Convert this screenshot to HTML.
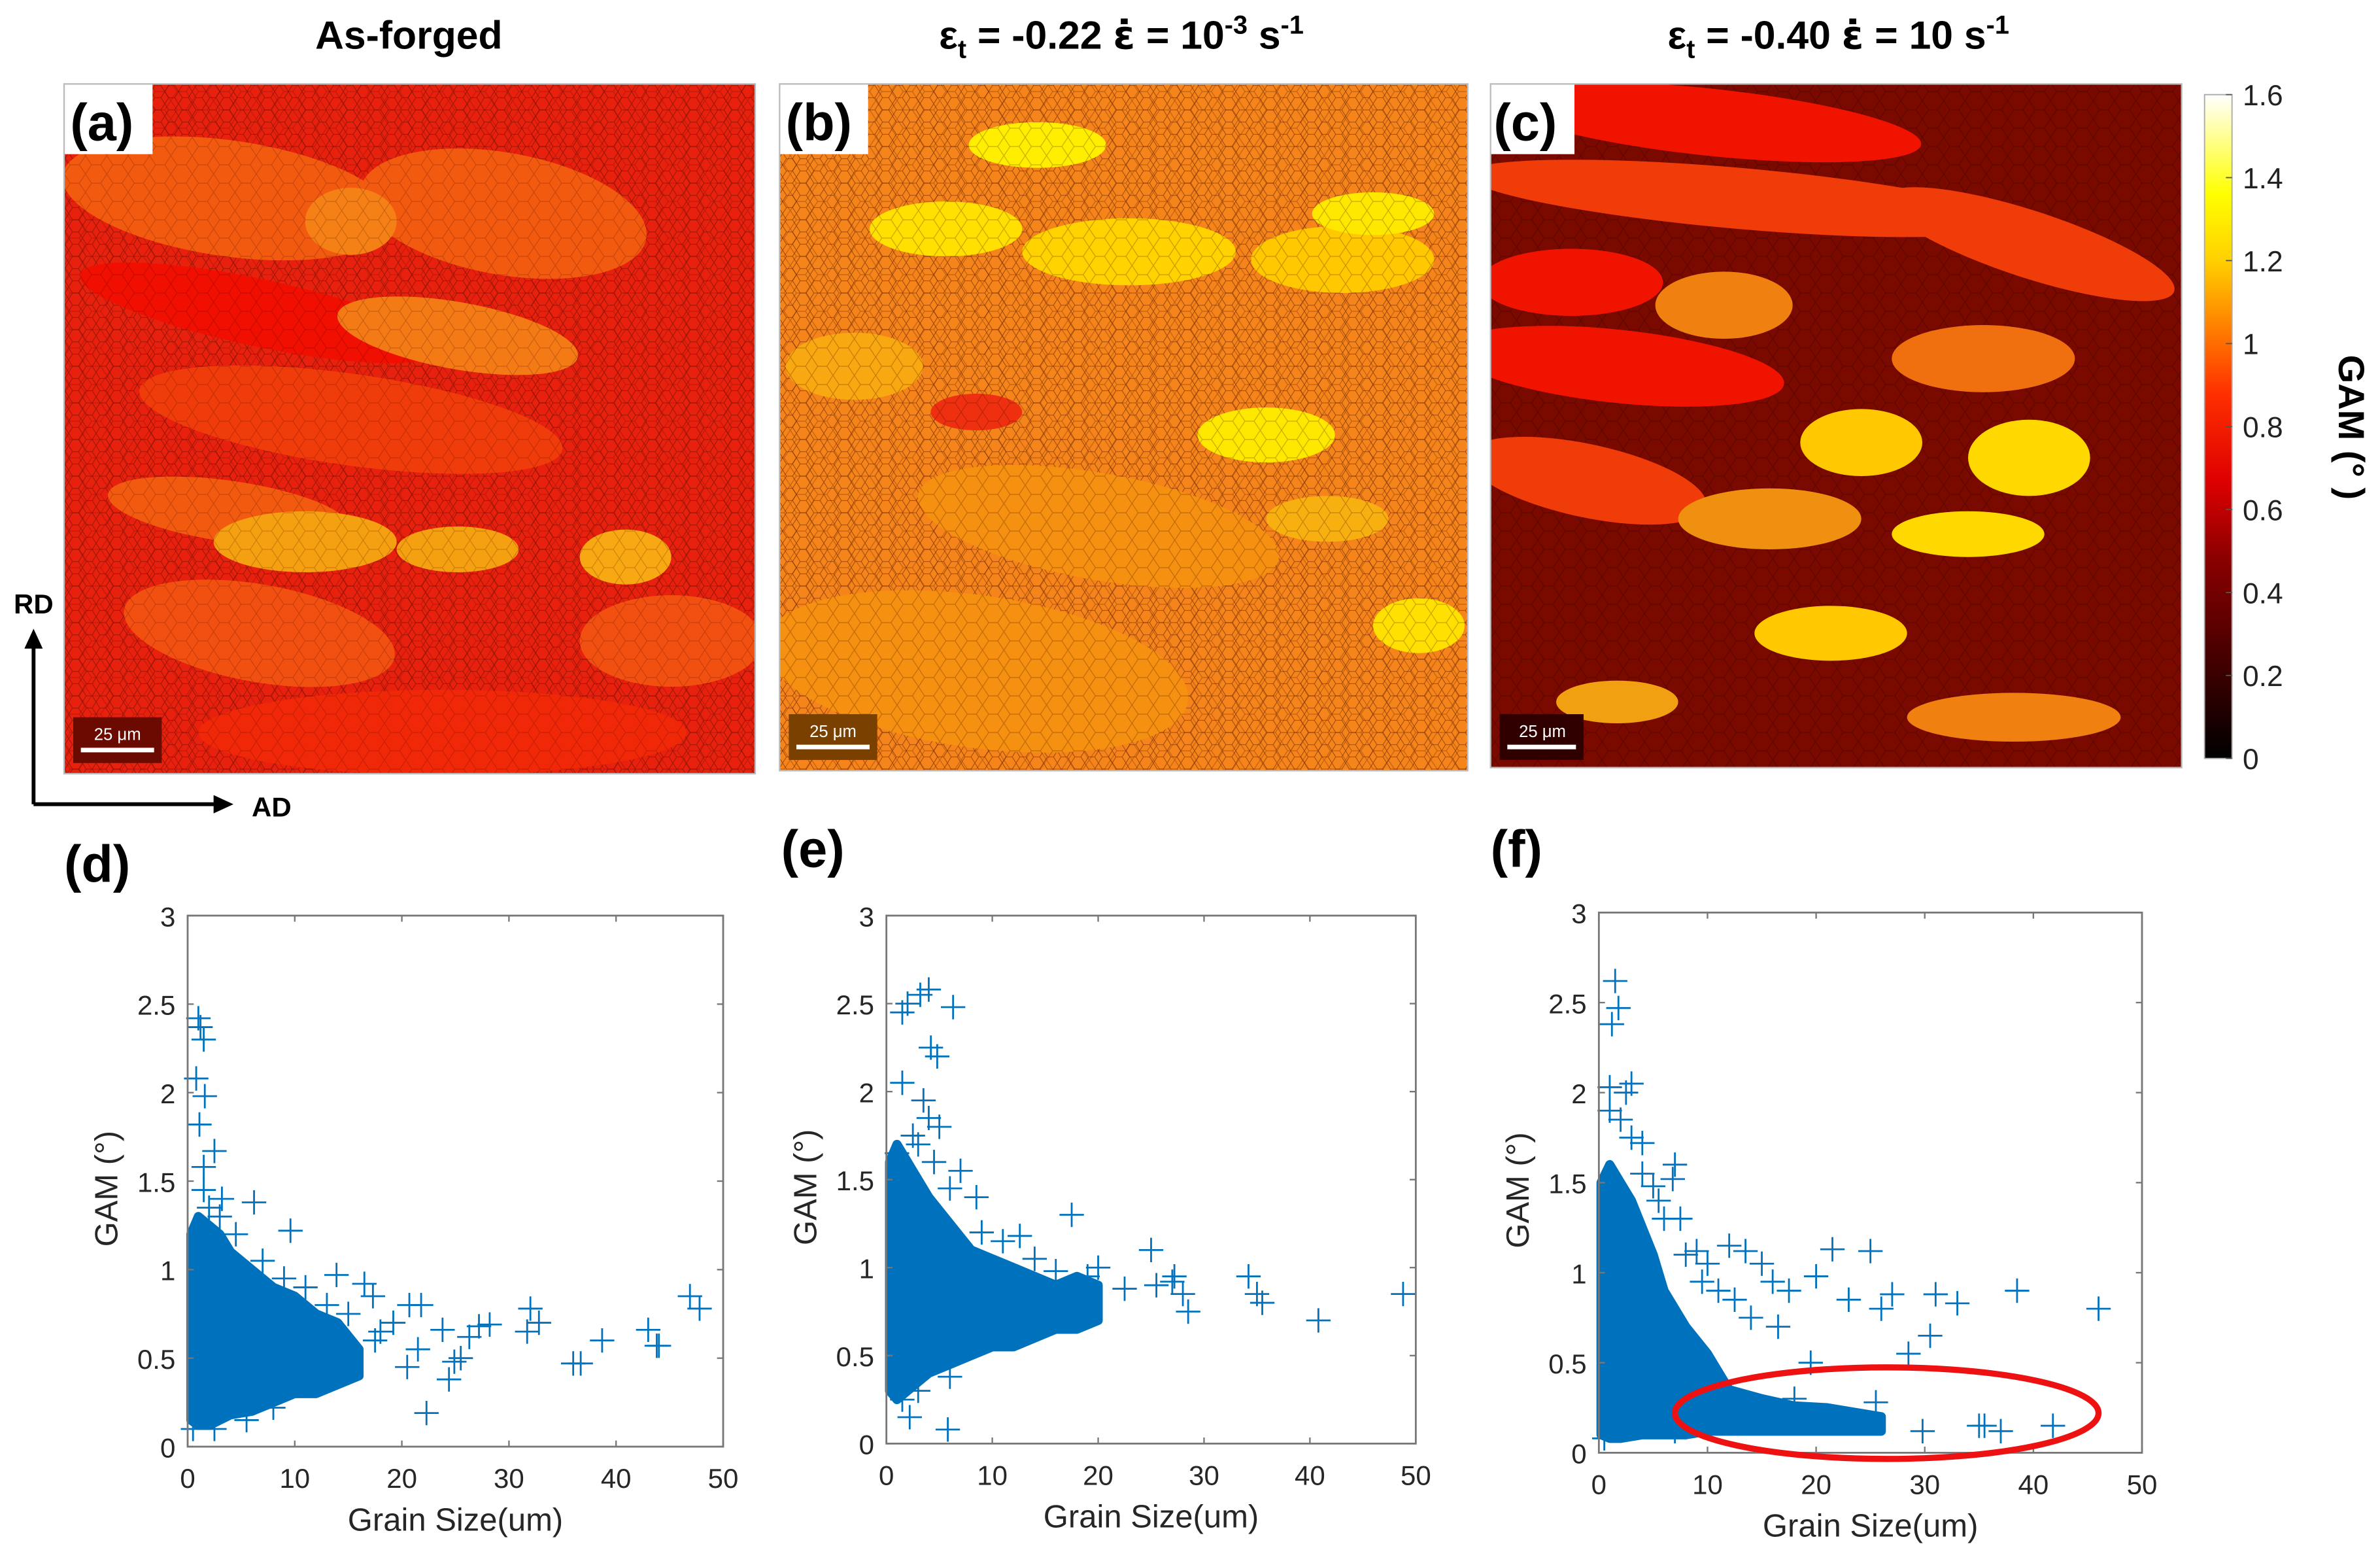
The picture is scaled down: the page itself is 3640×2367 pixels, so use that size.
<!DOCTYPE html>
<html><head><meta charset="utf-8"><style>
html,body{margin:0;padding:0;background:#fff}
svg{display:block}
text{font-family:"Liberation Sans",Arial,sans-serif}
</style></head><body>
<svg id="fig" xmlns="http://www.w3.org/2000/svg" width="3640" height="2367" viewBox="0 0 1560 1014.4">
<defs>
<pattern id="grains" width="14" height="12" patternUnits="userSpaceOnUse">
<path d="M0 6 L4 0 L10 0 L14 6 L10 12 L4 12 Z" fill="none" stroke="#3a0000" stroke-width="0.5" opacity="0.55"/>
</pattern>
<pattern id="grainsS" width="9" height="8" patternUnits="userSpaceOnUse">
<path d="M0 4 L2.5 0 L6.5 0 L9 4 L6.5 8 L2.5 8 Z" fill="none" stroke="#4a1000" stroke-width="0.45" opacity="0.5"/>
</pattern>
<linearGradient id="cbar" x1="0" y1="1" x2="0" y2="0">
<stop offset="0" stop-color="#000000"/><stop offset="0.3" stop-color="#8a0000"/><stop offset="0.42" stop-color="#e00000"/><stop offset="0.55" stop-color="#ff3000"/><stop offset="0.65" stop-color="#ff8000"/><stop offset="0.75" stop-color="#ffd000"/><stop offset="0.85" stop-color="#ffff00"/><stop offset="1" stop-color="#ffffff"/>
</linearGradient>
<clipPath id="ca"><rect x="42" y="55" width="453" height="452"/></clipPath>
<clipPath id="cb"><rect x="511" y="55" width="451" height="450"/></clipPath>
<clipPath id="cc"><rect x="977" y="55" width="453" height="448"/></clipPath>
</defs>

<!-- titles -->
<text x="268" y="32" font-size="26" font-weight="bold" text-anchor="middle">As-forged</text>
<text x="735" y="32" font-size="26" font-weight="bold" text-anchor="middle">ε<tspan font-size="17" dy="6">t</tspan><tspan dy="-6"> = -0.22  </tspan><tspan font-family="DejaVu Sans">ε̇</tspan><tspan> = 10</tspan><tspan font-size="17" dy="-10">-3</tspan><tspan dy="10"> s</tspan><tspan font-size="17" dy="-10">-1</tspan></text>
<text x="1205" y="32" font-size="26" font-weight="bold" text-anchor="middle">ε<tspan font-size="17" dy="6">t</tspan><tspan dy="-6"> = -0.40  </tspan><tspan font-family="DejaVu Sans">ε̇</tspan><tspan> = 10 s</tspan><tspan font-size="17" dy="-10">-1</tspan></text>

<!-- map a -->
<g clip-path="url(#ca)">
<rect x="42" y="55" width="453" height="452" fill="#e8200e"/>
<rect x="42" y="55" width="453" height="452" fill="url(#grainsS)"/>
<ellipse cx="150" cy="130" rx="110" ry="38" fill="#f25a10" transform="rotate(8 150 130)"/>
<ellipse cx="330" cy="140" rx="95" ry="40" fill="#f25a10" transform="rotate(10 330 140)"/>
<ellipse cx="230" cy="145" rx="30" ry="22" fill="#f58015"/>
<ellipse cx="170" cy="205" rx="120" ry="22" fill="#f00f00" transform="rotate(12 170 205)"/>
<ellipse cx="300" cy="220" rx="80" ry="22" fill="#f47a16" transform="rotate(10 300 220)"/>
<ellipse cx="230" cy="275" rx="140" ry="30" fill="#f03c0a" transform="rotate(8 230 275)"/>
<ellipse cx="150" cy="335" rx="80" ry="20" fill="#f25a10" transform="rotate(8 150 335)"/>
<ellipse cx="200" cy="355" rx="60" ry="20" fill="#f5a010"/>
<ellipse cx="300" cy="360" rx="40" ry="15" fill="#f5a010"/>
<ellipse cx="410" cy="365" rx="30" ry="18" fill="#f7a812"/>
<ellipse cx="170" cy="415" rx="90" ry="32" fill="#f25010" transform="rotate(10 170 415)"/>
<ellipse cx="290" cy="480" rx="160" ry="28" fill="#f02808"/>
<ellipse cx="440" cy="420" rx="60" ry="30" fill="#f25010"/>
<rect x="42" y="55" width="453" height="452" fill="url(#grains)" opacity="0.4"/>
<rect x="42" y="55" width="58" height="46" fill="#fff"/>
<rect x="48" y="470" width="58" height="30" fill="#6a0a00"/>
<rect x="53" y="490" width="48" height="3" fill="#fff"/>
<text x="77" y="485" font-size="11" fill="#fff" text-anchor="middle" font-family="Liberation Serif">25 μm</text>
</g>
<rect x="42" y="55" width="453" height="452" fill="none" stroke="#bbb" stroke-width="1"/>
<text x="46" y="92" font-size="34" font-weight="bold">(a)</text>

<!-- map b -->
<g clip-path="url(#cb)">
<rect x="511" y="55" width="451" height="450" fill="#f5841a"/>
<rect x="511" y="55" width="451" height="450" fill="url(#grainsS)"/>
<ellipse cx="680" cy="95" rx="45" ry="15" fill="#ffee00"/>
<ellipse cx="620" cy="150" rx="50" ry="18" fill="#ffe000"/>
<ellipse cx="740" cy="165" rx="70" ry="22" fill="#ffd200"/>
<ellipse cx="880" cy="170" rx="60" ry="22" fill="#ffc800"/>
<ellipse cx="900" cy="140" rx="40" ry="14" fill="#ffe800"/>
<ellipse cx="560" cy="240" rx="45" ry="22" fill="#f8a810"/>
<ellipse cx="830" cy="285" rx="45" ry="18" fill="#ffe800"/>
<ellipse cx="720" cy="345" rx="120" ry="35" fill="#f59010" transform="rotate(10 720 345)"/>
<ellipse cx="640" cy="440" rx="140" ry="50" fill="#f59010" transform="rotate(8 640 440)"/>
<ellipse cx="930" cy="410" rx="30" ry="18" fill="#ffe000"/>
<ellipse cx="870" cy="340" rx="40" ry="15" fill="#f8b010"/>
<ellipse cx="640" cy="270" rx="30" ry="12" fill="#ee3010"/>
<rect x="511" y="55" width="451" height="450" fill="url(#grains)" opacity="0.5"/>
<rect x="511" y="55" width="58" height="46" fill="#fff"/>
<rect x="517" y="468" width="58" height="30" fill="#7a4000"/>
<rect x="522" y="488" width="48" height="3" fill="#fff"/>
<text x="546" y="483" font-size="11" fill="#fff" text-anchor="middle" font-family="Liberation Serif">25 μm</text>
</g>
<rect x="511" y="55" width="451" height="450" fill="none" stroke="#bbb" stroke-width="1"/>
<text x="515" y="92" font-size="34" font-weight="bold">(b)</text>

<!-- map c -->
<g clip-path="url(#cc)">
<rect x="977" y="55" width="453" height="448" fill="#7a0a00"/>
<rect x="977" y="55" width="453" height="448" fill="url(#grains)" opacity="0.8"/>
<ellipse cx="1120" cy="80" rx="140" ry="22" fill="#f01400" transform="rotate(6 1120 80)"/>
<ellipse cx="1140" cy="130" rx="180" ry="20" fill="#f03c08" transform="rotate(5 1140 130)"/>
<ellipse cx="1330" cy="160" rx="100" ry="22" fill="#f03c08" transform="rotate(18 1330 160)"/>
<ellipse cx="1030" cy="185" rx="60" ry="22" fill="#f01400"/>
<ellipse cx="1130" cy="200" rx="45" ry="22" fill="#f08010"/>
<ellipse cx="1060" cy="240" rx="110" ry="24" fill="#f01400" transform="rotate(6 1060 240)"/>
<ellipse cx="1300" cy="235" rx="60" ry="22" fill="#f07010"/>
<ellipse cx="1220" cy="290" rx="40" ry="22" fill="#ffc800"/>
<ellipse cx="1330" cy="300" rx="40" ry="25" fill="#ffd800"/>
<ellipse cx="1040" cy="315" rx="80" ry="24" fill="#f03c08" transform="rotate(12 1040 315)"/>
<ellipse cx="1160" cy="340" rx="60" ry="20" fill="#f09010"/>
<ellipse cx="1290" cy="350" rx="50" ry="15" fill="#ffd800"/>
<ellipse cx="1200" cy="415" rx="50" ry="18" fill="#ffc800"/>
<ellipse cx="1320" cy="470" rx="70" ry="16" fill="#f08010"/>
<ellipse cx="1060" cy="460" rx="40" ry="14" fill="#f0a010"/>
<rect x="977" y="55" width="55" height="46" fill="#fff"/>
<rect x="983" y="468" width="55" height="30" fill="#300000"/>
<rect x="988" y="488" width="45" height="3" fill="#fff"/>
<text x="1011" y="483" font-size="11" fill="#fff" text-anchor="middle" font-family="Liberation Serif">25 μm</text>
</g>
<rect x="977" y="55" width="453" height="448" fill="none" stroke="#bbb" stroke-width="1"/>
<text x="979" y="92" font-size="34" font-weight="bold">(c)</text>

<!-- colorbar -->
<g>
<rect x="1445" y="62" width="18" height="435" fill="url(#cbar)" stroke="#aaa" stroke-width="0.8"/>
<g id="cbticks" font-size="19" fill="#222"></g>
<text font-size="24" font-weight="bold" transform="translate(1533 280) rotate(90)" text-anchor="middle">GAM (°  )</text>
</g>

<!-- axes arrows -->
<g stroke="#000" stroke-width="2.5" fill="#000">
<line x1="22" y1="527" x2="22" y2="422"/><path d="M16 425 L22 412 L28 425 Z" stroke="none"/>
<line x1="22" y1="527" x2="142" y2="527"/><path d="M140 521 L153 527 L140 533 Z" stroke="none"/>
</g>
<text x="22" y="402" font-size="18" font-weight="bold" text-anchor="middle">RD</text>
<text x="165" y="535" font-size="18" font-weight="bold">AD</text>

<text x="42" y="578" font-size="34" font-weight="bold">(d)</text>
<text x="512" y="568" font-size="34" font-weight="bold">(e)</text>
<text x="977" y="568" font-size="34" font-weight="bold">(f)</text>

<g id="plots"></g>
</svg>
<script>
// ---- colorbar data ----
const cbTicks = [0,0.2,0.4,0.6,0.8,1,1.2,1.4,1.6];
// ---- scatter data: dense-core envelopes (grain size vs GAM) and outlier points ----
const coreXd = [0.3,1,2,3,4,6,8,10,12,14,16];
const coreHiD = [1.2,1.3,1.25,1.2,1.1,1.0,0.9,0.85,0.75,0.7,0.55];
const coreLoD = [0.15,0.12,0.12,0.15,0.18,0.2,0.25,0.3,0.3,0.35,0.4];
const ptsXd = [1,1.2,1.5,0.8,1.6,1.1,2.5,1.5,3.2,6.2,9.6,13.9,16.5,17.3,20.7,21.8,22.3,23.8,24.4,25.5,26.3,27.2,28.2,31.7,32,32.8,36,36.7,38.7,43,43.8,44,46.9,47.8,19.2,21.5,17.5,15.2,12.3,20.5,24.9,2,3,1.5,4.5,7,9,11,13,15,18,0.5,2.5,5.5,8];
const ptsYd = [2.42,2.37,2.3,2.08,1.98,1.82,1.67,1.58,1.4,1.38,1.22,0.97,0.92,0.85,0.8,0.8,0.19,0.66,0.38,0.5,0.62,0.68,0.69,0.65,0.78,0.7,0.47,0.47,0.6,0.66,0.57,0.57,0.85,0.78,0.7,0.55,0.6,0.5,0.45,0.45,0.48,1.35,1.3,1.45,1.2,1.05,0.95,0.9,0.8,0.75,0.65,0.1,0.1,0.15,0.22];
const coreXe = [0.3,1,2,3,4,6,8,10,12,14,16,18,20];
const coreHiE = [1.6,1.7,1.6,1.5,1.4,1.25,1.1,1.05,1.0,0.95,0.9,0.95,0.9];
const coreLoE = [0.3,0.25,0.3,0.35,0.4,0.45,0.5,0.55,0.55,0.6,0.65,0.65,0.7];
const ptsXe = [1.5,2,3.2,4,4.2,4.8,6.3,1.5,3.5,4,5,7,8.5,12.6,17.5,20,22.5,25,25.5,27.2,28,28.5,34.2,35,35.5,40.8,48.8,5.8,2.2,27,2.5,3,1,4.5,6,9,11,14,16,19,1.5,3,6];
const ptsYe = [2.45,2.5,2.55,2.58,2.25,2.2,2.48,2.05,1.95,1.85,1.8,1.55,1.4,1.18,1.3,1.0,0.88,1.1,0.9,0.95,0.85,0.75,0.95,0.85,0.8,0.7,0.85,0.08,0.15,0.92,1.75,1.7,1.65,1.6,1.45,1.2,1.15,1.05,0.98,0.95,0.25,0.3,0.38];
const coreXf = [0.2,1,2,3,4,5,6,8,10,12,15,18,21,24,26];
const coreHiF = [1.5,1.6,1.5,1.4,1.25,1.1,0.9,0.7,0.55,0.35,0.3,0.26,0.25,0.22,0.2];
const coreLoF = [0.1,0.08,0.08,0.09,0.1,0.1,0.1,0.1,0.12,0.12,0.12,0.12,0.12,0.12,0.12];
const ptsXf = [1.5,1.8,1.2,1.0,2.5,3,4,5,7,7.5,6.8,9,10,12,13.5,15,16,17.5,20,21.5,23,25,26,27,28.5,29.8,30.5,33,35,37,38.5,41.8,46,25.5,31,35.5,19.5,18,22,2,3,1,4,5.5,6,8,9.5,11,12.5,14,16.5,0.5,7];
const ptsYf = [2.62,2.47,2.38,2.03,2.0,2.05,1.72,1.48,1.6,1.3,1.52,1.12,1.05,1.15,1.12,1.05,0.95,0.9,0.98,1.13,0.85,1.12,0.8,0.88,0.55,0.12,0.65,0.83,0.15,0.12,0.9,0.15,0.8,0.28,0.88,0.15,0.5,0.3,0.18,1.85,1.75,1.9,1.55,1.4,1.3,1.1,0.95,0.9,0.85,0.75,0.7,0.08,0.12];
const xTicks = [0,10,20,30,40,50];
const yTicks = [0,0.5,1,1.5,2,2.5,3];
const yTickLabels = ['0','0.5','1','1.5','2','2.5','3'];

const NS='http://www.w3.org/2000/svg';
function mk(tag,attrs,parent){const e=document.createElementNS(NS,tag);for(const k in attrs)e.setAttribute(k,attrs[k]);parent.appendChild(e);return e;}

// colorbar ticks
const cbG=document.getElementById('cbticks');
const cbY=v=>497-(v/1.6)*435;
cbTicks.forEach(v=>{
  const t=mk('text',{x:1470,y:cbY(v)+7},cbG);
  
  
  t.textContent=String(v);
  mk('line',{x1:1459,x2:1463,y1:cbY(v),y2:cbY(v),stroke:'#555','stroke-width':0.8},cbG);
});

const plots=document.getElementById('plots');
const BLUE='#0072bd';
function drawPlot(name,box,coreX,coreHi,coreLo,px,py){
  const g=mk('g',{},plots);
  
  
  const sx=v=>box.x0+(v/50)*(box.x1-box.x0);
  const sy=v=>box.y1-(v/3)*(box.y1-box.y0);
  let d='M'+sx(coreX[0])+' '+sy(coreLo[0]);
  for(let i=0;i<coreX.length;i++)d+=' L'+sx(coreX[i])+' '+sy(coreHi[i]);
  for(let i=coreX.length-1;i>=0;i--)d+=' L'+sx(coreX[i])+' '+sy(coreLo[i]);
  d+='Z';
  const core=mk('path',{d:d,fill:BLUE,stroke:BLUE,'stroke-width':6,'stroke-linejoin':'round'},g);
  
  
  for(let i=0;i<px.length;i++){
    const cx=sx(px[i]),cy=sy(py[i]);
    const p=mk('path',{d:`M${cx-8} ${cy}H${cx+8}M${cx} ${cy-8}V${cy+8}`,stroke:BLUE,'stroke-width':1.2,fill:'none'},g);
    
    
  }
  const ax=mk('rect',{x:box.x0,y:box.y0,width:box.x1-box.x0,height:box.y1-box.y0,fill:'none',stroke:'#777','stroke-width':1.2},g);
  
  
  xTicks.forEach(v=>{
    mk('line',{x1:sx(v),x2:sx(v),y1:box.y1,y2:box.y1-4,stroke:'#777'},g);
    mk('line',{x1:sx(v),x2:sx(v),y1:box.y0,y2:box.y0+4,stroke:'#777'},g);
    const t=mk('text',{x:sx(v),y:box.y1+27,'font-size':18,'text-anchor':'middle',fill:'#262626'},g);
    
    
    t.textContent=v;
  });
  yTicks.forEach((v,i)=>{
    mk('line',{x1:box.x0,x2:box.x0+4,y1:sy(v),y2:sy(v),stroke:'#777'},g);
    mk('line',{x1:box.x1,x2:box.x1-4,y1:sy(v),y2:sy(v),stroke:'#777'},g);
    const t=mk('text',{x:box.x0-8,y:sy(v)+7,'font-size':18,'text-anchor':'end',fill:'#262626'},g);
    
    
    t.textContent=yTickLabels[i];
  });
  const xl=mk('text',{x:(box.x0+box.x1)/2,y:box.y1+55,'font-size':21,'text-anchor':'middle',fill:'#262626'},g);
  
  
  xl.textContent='Grain Size(um)';
  const yl=mk('text',{x:0,y:0,'font-size':21,'text-anchor':'middle',fill:'#262626',transform:`translate(${box.x0-46} ${(box.y0+box.y1)/2+5}) rotate(-90)`},g);
  
  
  yl.textContent='GAM (°)';
  return {sx,sy,g};
}
drawPlot('scatter-d',{x0:123,x1:474,y0:600,y1:948},coreXd,coreHiD,coreLoD,ptsXd,ptsYd);
drawPlot('scatter-e',{x0:581,x1:928,y0:600,y1:946},coreXe,coreHiE,coreLoE,ptsXe,ptsYe);
const pf=drawPlot('scatter-f',{x0:1048,x1:1404,y0:598,y1:952},coreXf,coreHiF,coreLoF,ptsXf,ptsYf);
const ell=mk('ellipse',{cx:pf.sx(26.5),cy:pf.sy(0.22),rx:pf.sx(46)-pf.sx(26.5),ry:30,fill:'none',stroke:'#ee1111','stroke-width':4},pf.g);


</script>
</body></html>
